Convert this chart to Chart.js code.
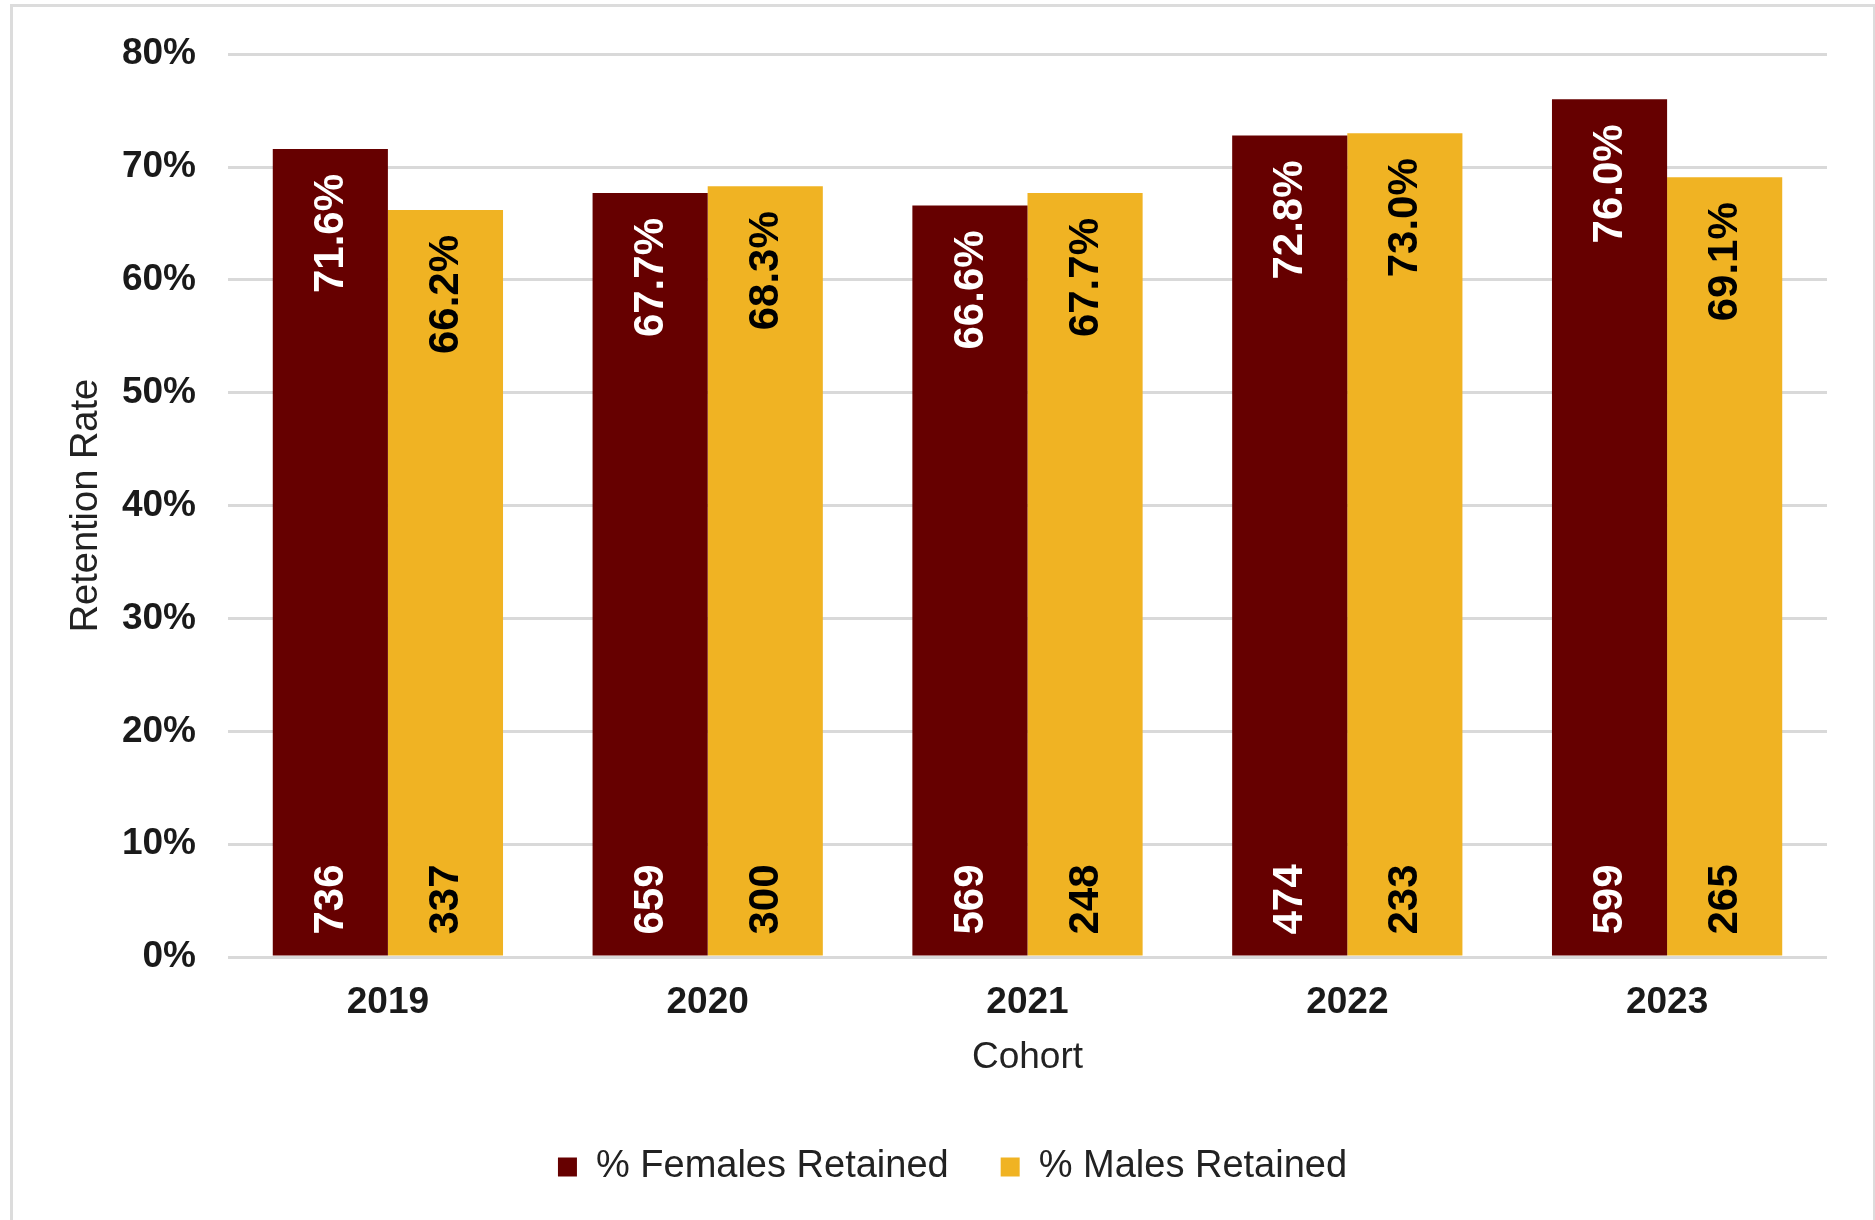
<!DOCTYPE html>
<html>
<head>
<meta charset="utf-8">
<title>Retention Rate by Cohort</title>
<script src="https://cdn.jsdelivr.net/npm/chart.js@4.4.1/dist/chart.umd.min.js"></script>
<style>
  html, body { margin: 0; padding: 0; background: #ffffff; overflow: hidden; }
  #wrap { position: relative; width: 1875px; height: 1220px; }
  #frame { position: absolute; left: 10px; top: 4px; width: 1860px; height: 1300px;
           border: 3px solid #dcdcdc; border-bottom: none; pointer-events: none; }
  canvas { position: absolute; left: 0; top: 0; }
</style>
</head>
<body>
<div id="wrap">
  <canvas id="c" width="1875" height="1220"></canvas>
  <div id="frame"></div>
</div>
<script>
const cohorts = ['2019', '2020', '2021', '2022', '2023'];
const femaleRate = [71.6, 67.7, 66.6, 72.8, 76.0];
const maleRate = [66.2, 68.3, 67.7, 73.0, 69.1];
const femaleCount = [736, 659, 569, 474, 599];
const maleCount = [337, 300, 248, 233, 265];
const seriesNames = ['% Females Retained', '% Males Retained'];
const yTicks = [0, 10, 20, 30, 40, 50, 60, 70, 80];

const FONT = '"Liberation Sans", Arial, Helvetica, sans-serif';
const MAROON = '#660000';
const GOLD = '#F0B323';

const barLabels = {
  id: 'barLabels',
  afterDatasetsDraw(chart) {
    const ctx = chart.ctx;
    const counts = [femaleCount, maleCount];
    const colors = ['#ffffff', '#000000'];
    chart.data.datasets.forEach((ds, di) => {
      const meta = chart.getDatasetMeta(di);
      meta.data.forEach((bar, i) => {
        const p = bar.getProps(['x', 'y', 'base'], true);
        ctx.save();
        ctx.fillStyle = colors[di];
        ctx.font = 'bold 42px ' + FONT;
        ctx.textBaseline = 'middle';
        // value label at top of bar, rotated
        ctx.save();
        ctx.translate(p.x, p.y + 25);
        ctx.rotate(-Math.PI / 2);
        ctx.textAlign = 'right';
        ctx.fillText(ds.data[i].toFixed(1) + '%', 0, 1);
        ctx.restore();
        // count label at bottom of bar, rotated
        ctx.save();
        ctx.translate(p.x, p.base - 21);
        ctx.rotate(-Math.PI / 2);
        ctx.textAlign = 'left';
        ctx.fillText(String(counts[di][i]), 0, 1);
        ctx.restore();
        ctx.restore();
      });
    });
  }
};

new Chart(document.getElementById('c'), {
  type: 'bar',
  data: {
    labels: cohorts,
    datasets: [
      { label: seriesNames[0], data: femaleRate, backgroundColor: MAROON, borderWidth: 0 },
      { label: seriesNames[1], data: maleRate, backgroundColor: GOLD, borderWidth: 0 }
    ]
  },
  options: {
    responsive: false,
    animation: false,
    devicePixelRatio: 1,
    layout: { padding: { left: 78, right: 48, top: 54, bottom: 24 } },
    datasets: { bar: { barPercentage: 1.0, categoryPercentage: 0.72 } },
    plugins: {
      tooltip: { enabled: false },
      legend: {
        position: 'bottom',
        labels: {
          boxWidth: 19,
          boxHeight: 19,
          padding: 52,
          color: '#222222',
          font: { family: FONT, size: 38 }
        }
      }
    },
    scales: {
      x: {
        grid: { display: false },
        border: { display: false },
        ticks: { color: '#1a1a1a', padding: 16, font: { family: FONT, size: 37, weight: 'bold' } },
        title: { display: true, text: 'Cohort', color: '#222222', padding: { top: 0, bottom: 16 },
                 font: { family: FONT, size: 37 } },
        afterFit(scale) { scale.height = 139; }
      },
      y: {
        min: 0,
        max: 80,
        afterBuildTicks(scale) { scale.ticks = yTicks.map(v => ({ value: v })); },
        grid: { color: '#d9d9d9', lineWidth: 3, drawTicks: false },
        border: { display: false },
        ticks: {
          color: '#1a1a1a',
          padding: 32,
          font: { family: FONT, size: 37, weight: 'bold' },
          callback: (v) => v + '%'
        },
        title: { display: true, text: 'Retention Rate', color: '#222222', padding: { top: -14, bottom: 0 },
                 font: { family: FONT, size: 38 } },
        afterFit(scale) { scale.width = 150; }
      }
    }
  },
  plugins: [barLabels]
});
</script>
</body>
</html>
